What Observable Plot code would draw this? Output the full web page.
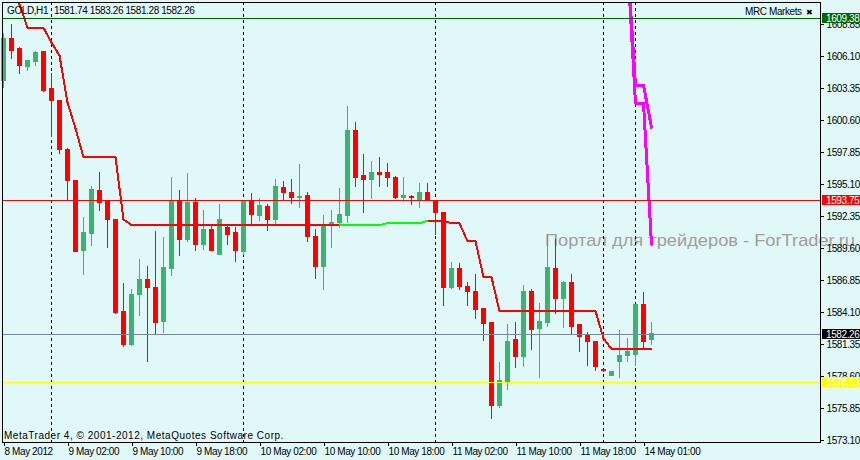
<!DOCTYPE html>
<html><head><meta charset="utf-8">
<script src="https://cdn.jsdelivr.net/npm/d3@7"></script>
<script src="https://cdn.jsdelivr.net/npm/@observablehq/plot@0.6"></script>
<style>
html,body{margin:0;padding:0;background:#E0F8F8;}
#wrap{width:860px;height:460px;overflow:hidden;}
#wrap svg text{letter-spacing:-0.4px;}
#wrap svg *{shape-rendering:crispEdges;}
</style></head><body><div id="wrap"></div>
<script>
// ---- data (GOLD, H1) ----
const open = [1604.01,1607.66,1606.74,1605.21,1605.64,1606.51,1603.30,1602.27,1598.14,1595.47,
1589.40,1590.86,1594.61,1593.73,1592.12,1584.21,1581.37,1585.59,1586.96,1586.27,
1583.35,1587.91,1593.75,1590.32,1593.50,1589.89,1591.18,1589.11,1591.35,1590.92,
1589.37,1593.75,1592.46,1593.24,1592.12,1594.87,1594.44,1593.93,1594.18,1590.66,
1588.08,1591.69,1591.78,1592.46,1599.77,1595.82,1595.56,1596.16,1596.08,1595.73,
1594.01,1594.10,1593.75,1594.36,1593.75,1592.72,1586.27,1587.91,1586.36,1585.93,
1584.47,1583.26,1576.13,1578.19,1581.72,1580.34,1585.93,1582.75,1583.26,1587.91,
1585.33,1586.70,1583.01,1582.23,1581.55,1579.18,1578.71,1579.91,1580.43,1580.51,
1584.81,1581.74];
const high = [1608.09,1608.89,1606.93,1605.71,1606.57,1606.57,1604.65,1602.27,1598.23,1595.47,
1592.32,1594.96,1596.16,1593.73,1592.12,1586.62,1586.10,1588.71,1588.08,1591.09,
1590.57,1595.73,1594.61,1596.08,1593.93,1592.89,1591.60,1593.41,1591.60,1591.43,
1593.75,1594.36,1593.93,1593.41,1595.56,1595.39,1595.56,1596.85,1594.44,1591.26,
1592.46,1592.89,1594.79,1601.84,1600.46,1597.71,1597.11,1597.45,1596.94,1595.82,
1595.73,1594.18,1595.22,1595.22,1593.75,1592.72,1588.42,1588.34,1586.70,1587.39,
1584.47,1583.26,1579.83,1583.09,1583.26,1586.45,1586.10,1584.90,1590.75,1590.40,
1586.79,1587.39,1583.01,1582.41,1581.63,1579.22,1579.05,1582.58,1581.89,1584.81,
1585.84,1583.26];
const low = [1603.41,1605.88,1604.59,1604.87,1605.30,1603.07,1599.20,1597.74,1593.75,1589.31,
1587.31,1589.80,1592.81,1589.63,1583.95,1581.12,1581.20,1583.78,1579.83,1582.15,
1582.32,1587.22,1588.94,1590.14,1589.37,1589.46,1589.40,1589.11,1589.89,1588.42,
1589.03,1591.60,1591.95,1591.09,1591.60,1593.75,1593.41,1593.07,1590.14,1586.96,
1586.02,1589.63,1591.35,1591.78,1594.87,1592.64,1593.84,1594.87,1594.87,1593.84,
1593.58,1593.32,1593.07,1593.75,1590.75,1584.64,1586.10,1586.02,1584.64,1583.52,
1581.63,1574.92,1575.87,1577.42,1579.31,1579.40,1580.86,1578.45,1582.84,1583.95,
1582.75,1582.15,1580.69,1579.48,1579.05,1578.97,1578.62,1578.45,1579.83,1579.48,
1581.03,1581.28];
const close = [1607.66,1606.59,1605.30,1605.71,1606.48,1603.13,1602.29,1598.08,1595.41,1589.31,
1591.00,1594.70,1593.52,1592.06,1584.12,1581.29,1585.59,1586.96,1586.27,1583.26,
1587.99,1593.75,1590.32,1593.58,1589.89,1591.18,1589.40,1592.12,1590.75,1589.40,
1593.75,1592.55,1593.32,1592.12,1594.96,1594.36,1593.93,1594.10,1590.66,1588.08,
1591.69,1591.86,1592.55,1599.69,1595.73,1595.56,1596.08,1595.99,1595.65,1594.01,
1594.18,1593.93,1594.36,1593.75,1592.72,1586.27,1587.91,1586.36,1585.93,1584.30,
1583.18,1576.13,1578.28,1581.63,1580.34,1585.93,1582.66,1583.35,1587.99,1585.33,
1586.70,1582.84,1582.06,1581.55,1579.40,1579.09,1579.05,1580.43,1580.77,1584.81,
1581.55,1582.26];
// trailing stop indicator (red buffer / green buffer), null = not drawn
const trailRed = [1614.82,1612.67,1610.61,1608.60,1608.60,1608.60,1607.34,1606.22,1602.18,1599.95,
1597.48,1597.48,1597.48,1597.48,1597.48,1592.12,1591.65,1591.65,1591.65,1591.65,
1591.65,1591.65,1591.65,1591.65,1591.65,1591.65,1591.65,1591.65,1591.65,1591.65,
1591.65,1591.65,1591.65,1591.65,1591.65,1591.65,1591.65,1591.65,1591.65,1591.65,
1591.65,1591.65,1591.65,null,null,null,null,null,null,null,
null,null,null,1592.03,1592.03,1591.99,1591.80,1591.80,1590.26,1590.26,
1587.16,1587.16,1584.24,1584.24,1584.24,1584.24,1584.24,1584.24,1584.24,1584.24,
1584.24,1584.24,1584.24,1584.24,1584.24,1581.89,1581.00,1581.00,1581.00,1581.00,
1581.00,1581.00];
const trailGreen = [null,null,null,null,null,null,null,null,null,null,
null,null,null,null,null,null,null,null,null,null,
null,null,null,null,null,null,null,null,null,null,
null,null,null,null,null,null,null,null,null,null,
null,null,1591.65,1591.65,1591.65,1591.65,1591.65,1591.65,1591.80,1591.80,
1591.80,1591.80,1591.80,1592.03,null,null,null,null,null,null,
null,null,null,null,null,null,null,null,null,null,
null,null,null,null,null,null,null,null,null,null,
null,null];
// projection lines (magenta)
const magIdx = [78, 79, 80, 81];
const magentaA = [1614.30, 1603.66, 1603.66, 1600.05];
const magentaB = [1614.30, 1602.11, 1602.11, 1589.99];
// horizontal price levels
const levels = [1609.38, 1593.75, 1582.26, 1578.13];
// day separators (bar index)
const separators = [6, 30, 54, 75, 79];
// axis ticks
const xTickIdx = [0, 8, 16, 24, 32, 40, 48, 56, 64, 72, 80];
const xTickLabels = ["8 May 2012","9 May 02:00","9 May 10:00","9 May 18:00","10 May 02:00","10 May 10:00","10 May 18:00","11 May 02:00","11 May 10:00","11 May 18:00","14 May 01:00"];
const yTicks = [1608.85,1606.10,1603.35,1600.60,1597.85,1595.10,1592.35,1589.60,1586.85,1584.10,1581.35,1578.60,1575.85,1573.10];

// ---- styles ----
const RED = "#FF0000", GREEN = "#3CB371", LIME = "#00FF00", MAG = "#FF00FF";
const levelStyle = [
  {line: "#006400", box: "#006400"},
  {line: "#FF0000", box: "#FF0000"},
  {line: "#778899", box: "#000000"},
  {line: "#FFFF00", box: "#FFFF00"}
];

const bars = open.map((o, i) => ({i, o, h: high[i], l: low[i], c: close[i], up: close[i] >= o}));

const chart = Plot.plot({
  width: 860, height: 460,
  marginTop: 2, marginRight: 40, marginBottom: 18, marginLeft: 2,
  style: {background: "#E0F8F8", fontFamily: "'Liberation Sans', Arial, sans-serif", fontSize: "10px", color: "#000"},
  x: {domain: [-0.125, 102.125]},
  y: {domain: [1572.95, 1610.78]},
  color: {type: "identity"},
  marks: [
    Plot.ruleX(separators, {x: d => d, stroke: "#000", strokeDasharray: "3,3"}),
    Plot.ruleX(bars, {x: "i", y1: "l", y2: "h", stroke: d => d.up ? GREEN : RED}),
    Plot.rect(bars, {x1: d => d.i - 0.3125, x2: d => d.i + 0.3125, y1: "o", y2: "c",
      fill: d => d.up ? GREEN : RED, insetTop: -0.5, insetBottom: -0.5}),
    Plot.line(bars, {x: "i", y: d => trailRed[d.i], stroke: RED, strokeWidth: 2, clip: true}),
    Plot.line(bars, {x: "i", y: d => trailGreen[d.i], stroke: LIME, strokeWidth: 2}),
    Plot.line(magIdx, {x: d => d, y: (d, j) => magentaA[j], stroke: MAG, strokeWidth: 3, clip: true}),
    Plot.line(magIdx, {x: d => d, y: (d, j) => magentaB[j], stroke: MAG, strokeWidth: 3, clip: true}),
    Plot.ruleY(levels, {y: d => d, stroke: (d, j) => levelStyle[j].line}),
    Plot.frame({stroke: "#000"}),
    Plot.axisY({anchor: "right", ticks: yTicks, tickFormat: d => d.toFixed(2), tickSize: 3, tickPadding: 3, label: null}),
    Plot.axisX({anchor: "bottom", ticks: xTickIdx, tickFormat: d => xTickLabels[xTickIdx.indexOf(d)],
      tickSize: 4, tickPadding: 1, textAnchor: "start", dx: 1, label: null})
  ]
});
document.getElementById("wrap").appendChild(chart);

const svg = d3.select(chart);
const ys = chart.scale("y");
const FONT = "'Liberation Sans', Arial, sans-serif";

// watermark (under everything)
svg.insert("text", ":first-child")
  .attr("x", 545).attr("y", 246)
  .attr("text-anchor", "start")
  .attr("font-family", FONT).attr("font-size", 17)
  .attr("fill", "#A39C9C")
  .attr("textLength", 310).attr("lengthAdjust", "spacingAndGlyphs")
  .style("letter-spacing", "0px")
  .text("Портал для трейдеров - ForTrader.ru");

// price labels of the level lines
levels.forEach((p, j) => {
  const y = Math.round(ys.apply(p));
  svg.append("rect").attr("x", 822).attr("y", y - 5).attr("width", 38).attr("height", 10)
    .attr("fill", levelStyle[j].box);
  svg.append("text").attr("x", 826).attr("y", y + 3.6)
    .attr("text-anchor", "start")
    .attr("font-family", FONT).attr("font-size", 10).attr("fill", "#fff")
    .text(p.toFixed(2));
});

// header & footer texts
const t = (x, y, s, opts = {}) => {
  const e = svg.append("text").attr("x", x).attr("y", y)
    .attr("text-anchor", "start")
    .attr("font-family", opts.font || FONT).attr("font-size", opts.size || 10)
    .attr("fill", opts.fill || "#000").text(s);
  if (opts.len) e.attr("textLength", opts.len).attr("lengthAdjust", "spacing");
  return e;
};
t(7, 14, "GOLD,H1");
t(54, 14, "1581.74 1583.26 1581.28 1582.26");
t(745, 15, "MRC Markets");
t(806, 15, "✖", {font: "DejaVu Sans", size: 8});
t(4, 439, "MetaTrader 4, © 2001-2012, MetaQuotes Software Corp.", {len: 279});
</script>
</body></html>
